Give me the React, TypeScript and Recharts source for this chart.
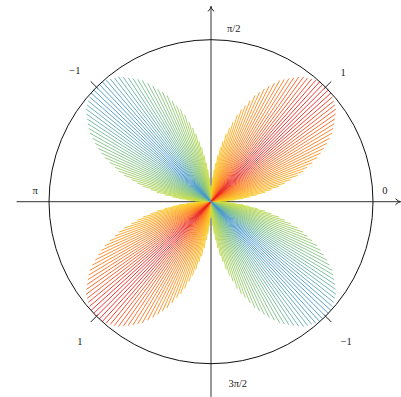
import { ComposedChart, Line, XAxis, YAxis, ReferenceLine, ReferenceDot } from 'recharts';

const ANGLE_STEP = 360 / 256;
const RADII = [
  0, .05, .10, .15, .20, .24, .29, .34, .38, .43, .47, .51, .56, .60, .63, .67, .71, .74, .77, .80, .83, .86, .88, .90, .92, .94, .96, .97, .98, .99, 1, 1,
  1, 1, 1, .99, .98, .97, .96, .94, .92, .90, .88, .86, .83, .80, .77, .74, .71, .67, .63, .60, .56, .51, .47, .43, .38, .34, .29, .24, .20, .15, .10, .05,
  0, -.05, -.10, -.15, -.20, -.24, -.29, -.34, -.38, -.43, -.47, -.51, -.56, -.60, -.63, -.67, -.71, -.74, -.77, -.80, -.83, -.86, -.88, -.90, -.92, -.94, -.96, -.97, -.98, -.99, -1, -1,
  -1, -1, -1, -.99, -.98, -.97, -.96, -.94, -.92, -.90, -.88, -.86, -.83, -.80, -.77, -.74, -.71, -.67, -.63, -.60, -.56, -.51, -.47, -.43, -.38, -.34, -.29, -.24, -.20, -.15, -.10, -.05,
  0, .05, .10, .15, .20, .24, .29, .34, .38, .43, .47, .51, .56, .60, .63, .67, .71, .74, .77, .80, .83, .86, .88, .90, .92, .94, .96, .97, .98, .99, 1, 1,
  1, 1, 1, .99, .98, .97, .96, .94, .92, .90, .88, .86, .83, .80, .77, .74, .71, .67, .63, .60, .56, .51, .47, .43, .38, .34, .29, .24, .20, .15, .10, .05,
  0, -.05, -.10, -.15, -.20, -.24, -.29, -.34, -.38, -.43, -.47, -.51, -.56, -.60, -.63, -.67, -.71, -.74, -.77, -.80, -.83, -.86, -.88, -.90, -.92, -.94, -.96, -.97, -.98, -.99, -1, -1,
  -1, -1, -1, -.99, -.98, -.97, -.96, -.94, -.92, -.90, -.88, -.86, -.83, -.80, -.77, -.74, -.71, -.67, -.63, -.60, -.56, -.51, -.47, -.43, -.38, -.34, -.29, -.24, -.20, -.15, -.10, -.05,
];

const AXIS_LABELS = [
  { text: '0', x: 1.074, y: 0.072 },
  { text: 'π/2', x: 0.14, y: 1.066 },
  { text: 'π', x: -1.086, y: 0.072 },
  { text: '3π/2', x: 0.165, y: -1.125 },
];
const RADIUS_LABELS = [
  { text: '1', x: 0.815, y: 0.80 },
  { text: '−1', x: -0.84, y: 0.81 },
  { text: '1', x: -0.81, y: -0.866 },
  { text: '−1', x: 0.835, y: -0.866 },
];
const TICK_ANGLES = [45, 135, 225, 315];

// colour stops from -1 (blue) to 1 (red)
const STOPS: [number, number[]][] = [
  [-1, [70, 150, 200]],
  [-0.97, [95, 170, 178]],
  [-0.88, [120, 188, 146]],
  [-0.65, [152, 203, 110]],
  [-0.3, [192, 219, 76]],
  [0, [226, 228, 46]],
  [0.3, [250, 200, 32]],
  [0.65, [252, 158, 30]],
  [0.88, [250, 120, 32]],
  [0.97, [245, 78, 30]],
  [1, [232, 35, 28]],
];

const colorFor = (v: number) => {
  for (let i = 1; i < STOPS.length; i++) {
    const [v1, c1] = STOPS[i];
    const [v0, c0] = STOPS[i - 1];
    if (v <= v1) {
      const t = (v - v0) / (v1 - v0);
      const c = c0.map((a, k) => Math.round(a + (c1[k] - a) * t));
      return `rgb(${c[0]},${c[1]},${c[2]})`;
    }
  }
  return 'rgb(232,35,28)';
};

// short (yellow) rays first so overlaps near the origin stay symmetric
const rays = RADII.map((r, i) => {
  const t = (i * ANGLE_STEP * Math.PI) / 180;
  return { x: r * Math.cos(t), y: r * Math.sin(t), v: r };
}).sort((a, b) => Math.abs(a.v) - Math.abs(b.v));

const W = 401;
const H = 397;
const X_DOMAIN = [-1.3025, 1.1728];
const Y_DOMAIN = [-1.2056, 1.245];

const Arrow = (dir: 'right' | 'up') => (p: any) => {
  const { x1, y1, x2, y2 } = p;
  const head =
    dir === 'right'
      ? `M${x2 - 5},${y2 - 3} Q${x2 - 2},${y2} ${x2},${y2} Q${x2 - 2},${y2} ${x2 - 5},${y2 + 3}`
      : `M${x2 - 3},${y2 + 5} Q${x2},${y2 + 2} ${x2},${y2} Q${x2},${y2 + 2} ${x2 + 3},${y2 + 5}`;
  return (
    <g>
      <line x1={x1} y1={y1} x2={x2} y2={y2} stroke="#333" strokeWidth={1} />
      <path d={head} fill="none" stroke="#222" strokeWidth={1} />
    </g>
  );
};

const textShape = (text: string) => (p: any) => (
  <text
    x={p.cx}
    y={p.cy}
    textAnchor="middle"
    dominantBaseline="central"
    fontFamily="'Liberation Serif', serif"
    fontSize={10.5}
    fill="#1a1a1a"
    opacity={0.99}
  >
    {text}
  </text>
);

export default function App() {
  return (
    <div style={{ position: 'absolute', left: 0, top: 0, background: '#fff' }}>
      <ComposedChart width={W} height={H} margin={{ top: 0, right: 0, bottom: 0, left: 0 }}>
        <XAxis type="number" dataKey="x" domain={X_DOMAIN} allowDataOverflow hide />
        <YAxis type="number" dataKey="y" domain={Y_DOMAIN} allowDataOverflow hide />
        <ReferenceLine segment={[{ x: -1.2, y: 0 }, { x: 1.17, y: 0 }]} shape={Arrow('right')} />
        <ReferenceLine segment={[{ x: 0, y: -1.205 }, { x: 0, y: 1.205 }]} shape={Arrow('up')} />
        <ReferenceDot x={0} y={0} r={162} fill="none" stroke="#111" strokeWidth={1} />
        {TICK_ANGLES.map((a) => {
          const c = Math.cos((a * Math.PI) / 180);
          const s = Math.sin((a * Math.PI) / 180);
          return (
            <ReferenceLine
              key={a}
              segment={[{ x: 0.985 * c, y: 0.985 * s }, { x: 1.05 * c, y: 1.05 * s }]}
              stroke="#222"
              strokeWidth={1}
            />
          );
        })}
        {rays.map((p, i) => (
          <Line
            key={i}
            data={[{ x: 0, y: 0 }, { x: p.x, y: p.y }]}
            dataKey="y"
            type="linear"
            stroke={colorFor(p.v)}
            strokeWidth={0.9}
            dot={false}
            activeDot={false}
            isAnimationActive={false}
          />
        ))}
        {[...AXIS_LABELS, ...RADIUS_LABELS].map((l, i) => (
          <ReferenceDot key={'l' + i} x={l.x} y={l.y} r={0} shape={textShape(l.text)} />
        ))}
      </ComposedChart>
    </div>
  );
}
